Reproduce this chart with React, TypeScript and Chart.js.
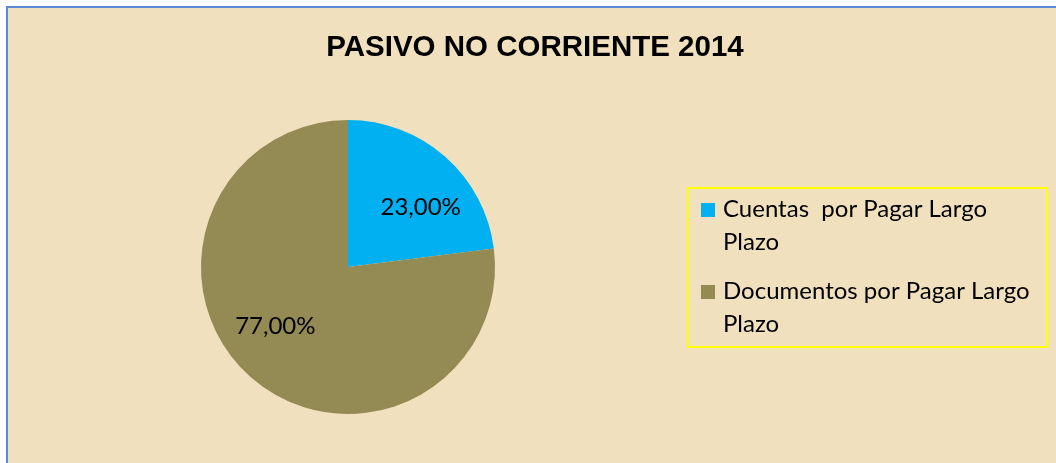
import React, { useEffect, useRef } from "react";
import { Chart, registerables } from "chart.js";

Chart.register(...registerables);

const title = "PASIVO NO CORRIENTE 2014";
const categories = ["Cuentas  por Pagar Largo Plazo", "Documentos por Pagar Largo Plazo"];
const legendLines = [
  ["Cuentas  por Pagar Largo", "Plazo"],
  ["Documentos por Pagar Largo", "Plazo"],
];
const values = [23, 77];
const valueLabels = ["23,00%", "77,00%"];
const colors = ["#00B0F0", "#948A54"];

const BODY_FONT = "Lato, 'Noto Sans', sans-serif";

const decorPlugin = {
  id: "decor",
  beforeDraw(chart: any) {
    const { ctx, width, height } = chart;
    ctx.save();
    ctx.fillStyle = "#F1E0BD";
    ctx.fillRect(0, 0, width, height);
    ctx.restore();
  },
  afterDraw(chart: any) {
    const { ctx } = chart;
    ctx.save();
    // title
    ctx.fillStyle = "#000";
    ctx.font = "bold 29.5px 'Liberation Sans', Arial, sans-serif";
    ctx.textAlign = "center";
    ctx.textBaseline = "alphabetic";
    ctx.fillText(title, 527, 48);

    // data labels
    const meta = chart.getDatasetMeta(0);
    ctx.font = `24px ${BODY_FONT}`;
    ctx.textAlign = "center";
    ctx.textBaseline = "middle";
    meta.data.forEach((arc: any, i: number) => {
      const p = arc.getProps(["x", "y", "startAngle", "endAngle", "outerRadius"], true);
      const mid = (p.startAngle + p.endAngle) / 2 + 0.16;
      const r = p.outerRadius * 0.64;
      ctx.fillText(valueLabels[i], p.x + Math.cos(mid) * r, p.y + Math.sin(mid) * r);
    });

    // legend
    ctx.strokeStyle = "#FFFF00";
    ctx.lineWidth = 2;
    ctx.strokeRect(680, 180, 359, 159);
    ctx.textAlign = "left";
    ctx.textBaseline = "alphabetic";
    ctx.font = `24px ${BODY_FONT}`;
    const itemTops = [209, 291];
    legendLines.forEach((lines, i) => {
      ctx.fillStyle = colors[i];
      ctx.fillRect(693, itemTops[i] - 14, 14, 14);
      ctx.fillStyle = "#000";
      lines.forEach((ln, j) => {
        ctx.fillText(ln, 715, itemTops[i] + j * 33);
      });
    });
    ctx.restore();
  },
};

export default function App() {
  const ref = useRef<HTMLCanvasElement>(null);
  useEffect(() => {
    if (!ref.current) return;
    const chart = new Chart(ref.current, {
      type: "pie",
      data: {
        labels: categories,
        datasets: [
          {
            data: values,
            backgroundColor: colors,
            borderWidth: 0,
          },
        ],
      },
      options: {
        animation: false,
        responsive: true,
        maintainAspectRatio: false,
        layout: { padding: { left: 193, right: 561, top: 112, bottom: 49 } },
        plugins: {
          legend: { display: false },
          title: { display: false },
          tooltip: { enabled: false },
        },
      },
      plugins: [decorPlugin],
    });
    return () => chart.destroy();
  }, []);
  return (
    <div
      style={{
        position: "absolute",
        left: 6,
        top: 6,
        width: 1050,
        height: 457,
        boxSizing: "border-box",
        borderTop: "2px solid #5B8BD5",
        borderLeft: "2px solid #5B8BD5",
      }}
    >
      <canvas ref={ref} />
    </div>
  );
}
